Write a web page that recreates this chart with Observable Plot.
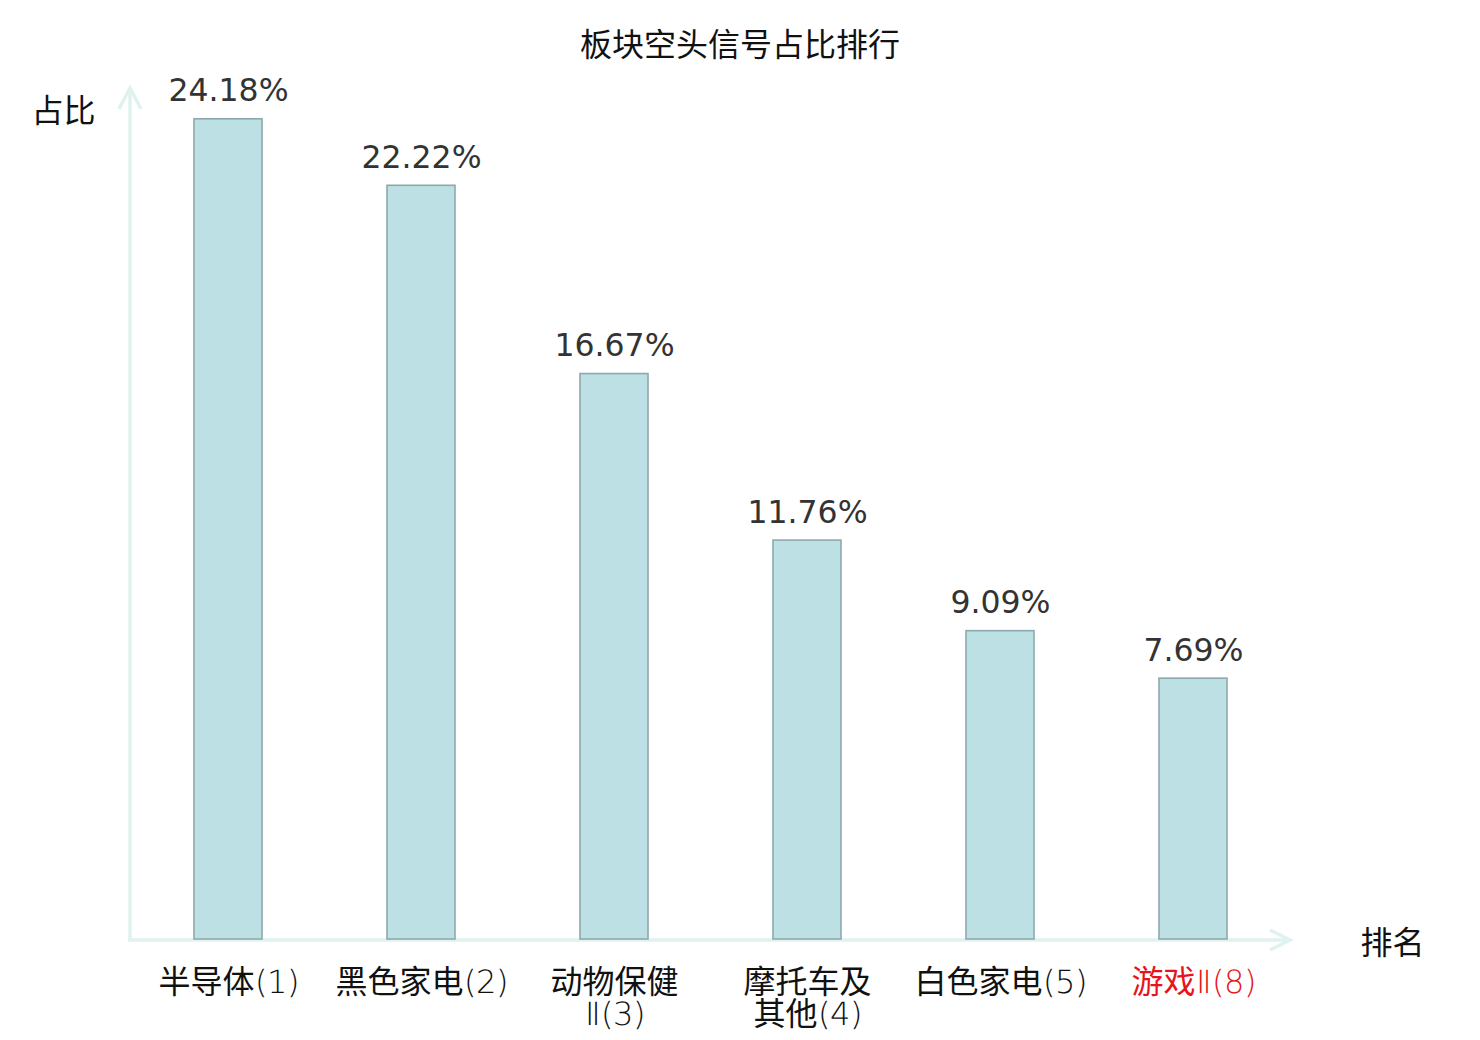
<!DOCTYPE html>
<html>
<head>
<meta charset="utf-8">
<script src="https://cdn.jsdelivr.net/npm/d3@7"></script>
<script src="https://cdn.jsdelivr.net/npm/@observablehq/plot@0.6"></script>
<style>
  @font-face { font-family: "TickLatin"; src: local("DejaVu Sans ExtraLight"), local("DejaVuSans-ExtraLight"); }
  html, body { margin: 0; padding: 0; background: #fff; }
  #title { height: 70px; box-sizing: border-box; padding-top: 26px; text-align: center;
           font: 32px/32px "Noto Sans CJK SC", sans-serif; color: #111; width: 1480px; }
  #chart svg { display: block; }
</style>
</head>
<body>
<div id="title">板块空头信号占比排行</div>
<div id="chart"></div>
<script>
const categories = ["半导体(1)", "黑色家电(2)", "动物保健Ⅱ(3)", "摩托车及其他(4)", "白色家电(5)", "游戏Ⅱ(8)"];
const tickLabels = ["半导体(1)", "黑色家电(2)", "动物保健\nⅡ(3)", "摩托车及\n其他(4)", "白色家电(5)", "游戏Ⅱ(8)"];
const values = [24.18, 22.22, 16.67, 11.76, 9.09, 7.69];
const valueLabels = ["24.18%", "22.22%", "16.67%", "11.76%", "9.09%", "7.69%"];
const highlighted = "游戏Ⅱ(8)";
const yAxisName = "占比";
const xAxisName = "排名";

const data = categories.map((c, i) => ({category: c, value: values[i], label: valueLabels[i]}));
const tickMap = new Map(categories.map((c, i) => [c, tickLabels[i]]));
const axisColor = "#dff2ef";

const plot = Plot.plot({
  width: 1480,
  height: 970,
  marginTop: 21,
  marginBottom: 101,
  marginLeft: 130,
  marginRight: 190,
  style: {fontFamily: "'Noto Sans CJK SC', sans-serif", background: "#fff"},
  x: {domain: categories, paddingInner: 0.65, paddingOuter: 0.325, label: null},
  y: {domain: [0, 25], label: null, axis: null},
  marks: [
    Plot.barY(data, {x: "category", y: "value", fill: "#bce0e3", stroke: "#8ea9ab", strokeWidth: 1.6}),
    Plot.text(data, {x: "category", y: "value", text: "label", lineAnchor: "bottom", dy: -18,
      fontSize: 31.5, fill: "#333", fontFamily: "'DejaVu Sans', sans-serif"}),
    Plot.axisX({tickSize: 0, tickPadding: 30, fontSize: 32, lineHeight: 1.02, lineAnchor: "top",
      fontFamily: "TickLatin, 'Noto Sans CJK SC', sans-serif", fontWeight: 400,
      tickFormat: d => tickMap.get(d),
      fill: d => d === highlighted ? "#e8141b" : "#111"}),
    Plot.text([yAxisName], {frameAnchor: "top-left", textAnchor: "middle", dx: -67, dy: 8, fontSize: 32, fill: "#111"}),
    Plot.text([xAxisName], {frameAnchor: "bottom-right", textAnchor: "middle", dx: 102, dy: 14, fontSize: 32, fill: "#111"})
  ]
});

document.getElementById("chart").appendChild(plot);

// axis lines with arrowheads, placed from the scales' ranges
const xs = plot.scale("x"), ys = plot.scale("y");
const x0 = xs.range[0], x1 = xs.range[1];
const y0 = ys.range[0], yTop = ys.range[1];
const svg = d3.select(plot);
const g = svg.insert("g", ":first-child").attr("fill", "none").attr("stroke", axisColor)
  .attr("stroke-width", 3.5).attr("stroke-linecap", "butt");
g.append("line").attr("x1", x0).attr("x2", x0).attr("y1", y0 + 1).attr("y2", yTop - 3);
g.append("polyline").attr("points", `${x0 - 11},${yTop + 18} ${x0},${yTop - 3} ${x0 + 11},${yTop + 18}`);
g.append("line").attr("x1", x0 - 2).attr("x2", x1).attr("y1", y0 + 1).attr("y2", y0 + 1);
g.append("polyline").attr("points", `${x1 - 20},${y0 - 9} ${x1},${y0 + 1} ${x1 - 20},${y0 + 11}`);
</script>
</body>
</html>
